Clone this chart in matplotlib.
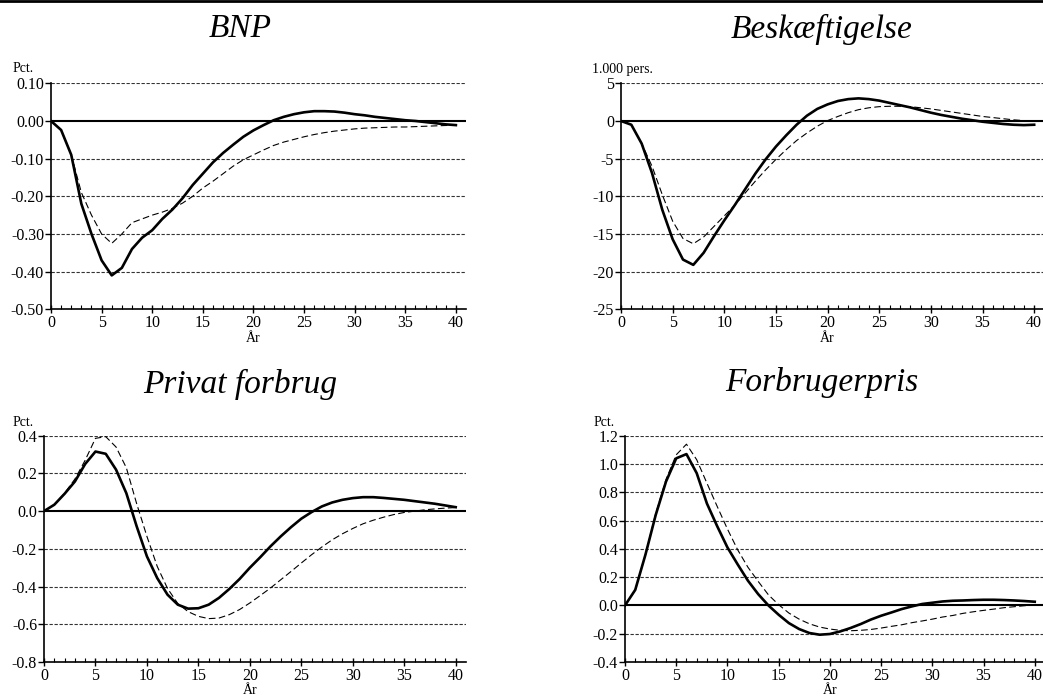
import matplotlib
matplotlib.use("Agg")
import matplotlib.pyplot as plt
from matplotlib.lines import Line2D
from matplotlib.ticker import FixedLocator, FormatStrFormatter

plt.rcParams['font.family'] = ['Liberation Serif', 'DejaVu Serif']

years = list(range(41))

bnp_solid = [0, -0.024, -0.09, -0.22, -0.30, -0.37, -0.41, -0.39, -0.34, -0.31, -0.29,
             -0.26, -0.235, -0.205, -0.17, -0.14, -0.11, -0.085, -0.063, -0.042, -0.025,
             -0.011, 0.002, 0.011, 0.018, 0.023, 0.026, 0.026, 0.025, 0.022, 0.018,
             0.015, 0.011, 0.008, 0.005, 0.002, 0.0, -0.003, -0.006, -0.009, -0.011]
bnp_dashed = [0, -0.024, -0.09, -0.19, -0.25, -0.30, -0.325, -0.30, -0.27, -0.26, -0.25,
              -0.242, -0.232, -0.218, -0.20, -0.178, -0.16, -0.14, -0.12, -0.103, -0.09,
              -0.077, -0.065, -0.056, -0.049, -0.042, -0.036, -0.031, -0.027, -0.024, -0.021,
              -0.019, -0.018, -0.017, -0.016, -0.016, -0.015, -0.014, -0.013, -0.012, -0.011]

besk_solid = [0, -0.5, -3.0, -6.9, -11.8, -15.7, -18.4, -19.1, -17.5, -15.3, -13.2,
              -11.2, -9.1, -7.0, -5.1, -3.4, -1.9, -0.5, 0.7, 1.6, 2.2,
              2.65, 2.9, 3.0, 2.9, 2.7, 2.4, 2.1, 1.8, 1.45, 1.1,
              0.8, 0.55, 0.3, 0.1, -0.1, -0.25, -0.4, -0.5, -0.55, -0.5]
besk_dashed = [0, -0.5, -3.0, -6.0, -9.8, -13.3, -15.6, -16.3, -15.4, -14.0, -12.6,
               -11.2, -9.6, -8.0, -6.5, -5.1, -3.8, -2.6, -1.6, -0.7, 0.05,
               0.6, 1.1, 1.5, 1.75, 1.9, 1.95, 1.95, 1.9, 1.75, 1.6,
               1.4, 1.2, 1.0, 0.8, 0.6, 0.45, 0.3, 0.15, 0.05, 0.0]

priv_solid = [0, 0.034, 0.092, 0.157, 0.25, 0.316, 0.304, 0.22, 0.095, -0.08, -0.24,
              -0.355, -0.443, -0.496, -0.517, -0.515, -0.496, -0.46, -0.413, -0.36, -0.30,
              -0.245, -0.187, -0.134, -0.085, -0.04, -0.005, 0.025, 0.046, 0.06, 0.069,
              0.074, 0.074, 0.07, 0.065, 0.06, 0.053, 0.046, 0.039, 0.03, 0.021]
priv_dashed = [0, 0.034, 0.095, 0.17, 0.27, 0.386, 0.395, 0.34, 0.23, 0.04, -0.134,
               -0.293, -0.41, -0.49, -0.533, -0.558, -0.57, -0.567, -0.549, -0.522, -0.487,
               -0.448, -0.408, -0.364, -0.32, -0.275, -0.231, -0.19, -0.152, -0.12, -0.092,
               -0.067, -0.048, -0.032, -0.018, -0.007, 0.0, 0.007, 0.012, 0.016, 0.019]

pris_solid = [0, 0.11, 0.36, 0.64, 0.875, 1.04, 1.07, 0.935, 0.72, 0.56, 0.41,
              0.29, 0.175, 0.08, 0.0, -0.066, -0.125, -0.167, -0.195, -0.207, -0.202,
              -0.184, -0.16, -0.132, -0.10, -0.073, -0.05, -0.026, -0.007, 0.01, 0.019,
              0.028, 0.033, 0.035, 0.038, 0.04, 0.04, 0.038, 0.035, 0.031, 0.026]
pris_dashed = [0, 0.11, 0.36, 0.65, 0.89, 1.065, 1.14, 1.03, 0.864, 0.70, 0.54,
               0.393, 0.27, 0.17, 0.075, 0.005, -0.054, -0.097, -0.13, -0.153, -0.167,
               -0.176, -0.179, -0.176, -0.17, -0.16, -0.148, -0.137, -0.122, -0.11, -0.097,
               -0.082, -0.071, -0.056, -0.045, -0.035, -0.026, -0.016, -0.009, -0.002, 0.002]

titles = ["BNP", "Beskæftigelse", "Privat forbrug", "Forbrugerpris"]
units = ["Pct.", "1.000 pers.", "Pct.", "Pct."]
y_ranges = [(-0.5, 0.1, 0.1, "%.2f"), (-25, 5, 5, "%d"), (-0.8, 0.4, 0.2, "%.1f"), (-0.4, 1.2, 0.2, "%.1f")]
xlabel = "År"

W, H = 1043, 696
fig = plt.figure(figsize=(W / 100, H / 100), dpi=100)

# axes boxes in pixels: left, right, top, bottom
boxes = [(51, 466, 83.3, 309.3), (621, 1044.5, 83.3, 309.3),
         (44, 466, 435.7, 662), (625, 1045, 435.7, 662)]
series = [(bnp_solid, bnp_dashed), (besk_solid, besk_dashed),
          (priv_solid, priv_dashed), (pris_solid, pris_dashed)]
title_y = [29, 29, 384, 382]
title_x = [240, 822, 240, 822]
xlab_y = [338, 338, 690, 690]
unit_pos = [(13, 69), (592, 69), (13, 422), (594, 422)]

for i in range(4):
    l, r, t, b = boxes[i]
    ax = fig.add_axes([l / W, 1 - b / H, (r - l) / W, (b - t) / H])
    ymin, ymax, step, fmt = y_ranges[i]
    solid, dashed = series[i]
    n = int(round((ymax - ymin) / step))
    yt = [ymin + k * step for k in range(n + 1)]
    for v in yt:
        if abs(v) < 1e-9:
            ax.axhline(0, color='black', lw=1.5, zorder=2)
        elif v > ymin + 1e-9:
            ax.axhline(v, color='#333333', lw=0.8, ls=(0, (3, 1.5)), zorder=1)
    ax.plot(years, dashed, color='black', lw=0.8, ls=(0, (6, 3)), zorder=3)
    ax.plot(years, solid, color='black', lw=1.9, zorder=4)
    ax.set_xlim(0, 41)
    ax.set_ylim(ymin, ymax)
    ax.yaxis.set_major_locator(FixedLocator(yt))
    ax.yaxis.set_major_formatter(FormatStrFormatter(fmt))
    ax.xaxis.set_major_locator(FixedLocator([0, 5, 10, 15, 20, 25, 30, 35, 40]))
    ax.xaxis.set_minor_locator(FixedLocator(list(range(41))))
    ax.spines['top'].set_visible(False)
    ax.spines['right'].set_visible(False)
    ax.spines['left'].set_linewidth(1.2)
    ax.spines['bottom'].set_linewidth(1.2)
    ax.tick_params(axis='x', which='major', direction='inout', length=6, width=1, labelsize=11.5, pad=1)
    ax.tick_params(axis='x', which='minor', direction='in', length=3, width=0.8)
    ax.tick_params(axis='y', which='major', direction='out', length=4, width=1, labelsize=11.5, pad=1)
    ax.set_facecolor('none')
    fig.text(title_x[i] / W, 1 - title_y[i] / H, titles[i], ha='center', va='center',
             fontsize=24, style='italic')
    ux, uy = unit_pos[i]
    fig.text(ux / W, 1 - uy / H, units[i], ha='left', va='center', fontsize=10)
    fig.text((l + 20 * (r - l) / 41) / W, 1 - xlab_y[i] / H, xlabel, ha='center', va='center', fontsize=10)

fig.add_artist(Line2D([0, 1], [1 - 1 / H, 1 - 1 / H], color='black', lw=2, transform=fig.transFigure))

fig.savefig("out.png", dpi=100)
